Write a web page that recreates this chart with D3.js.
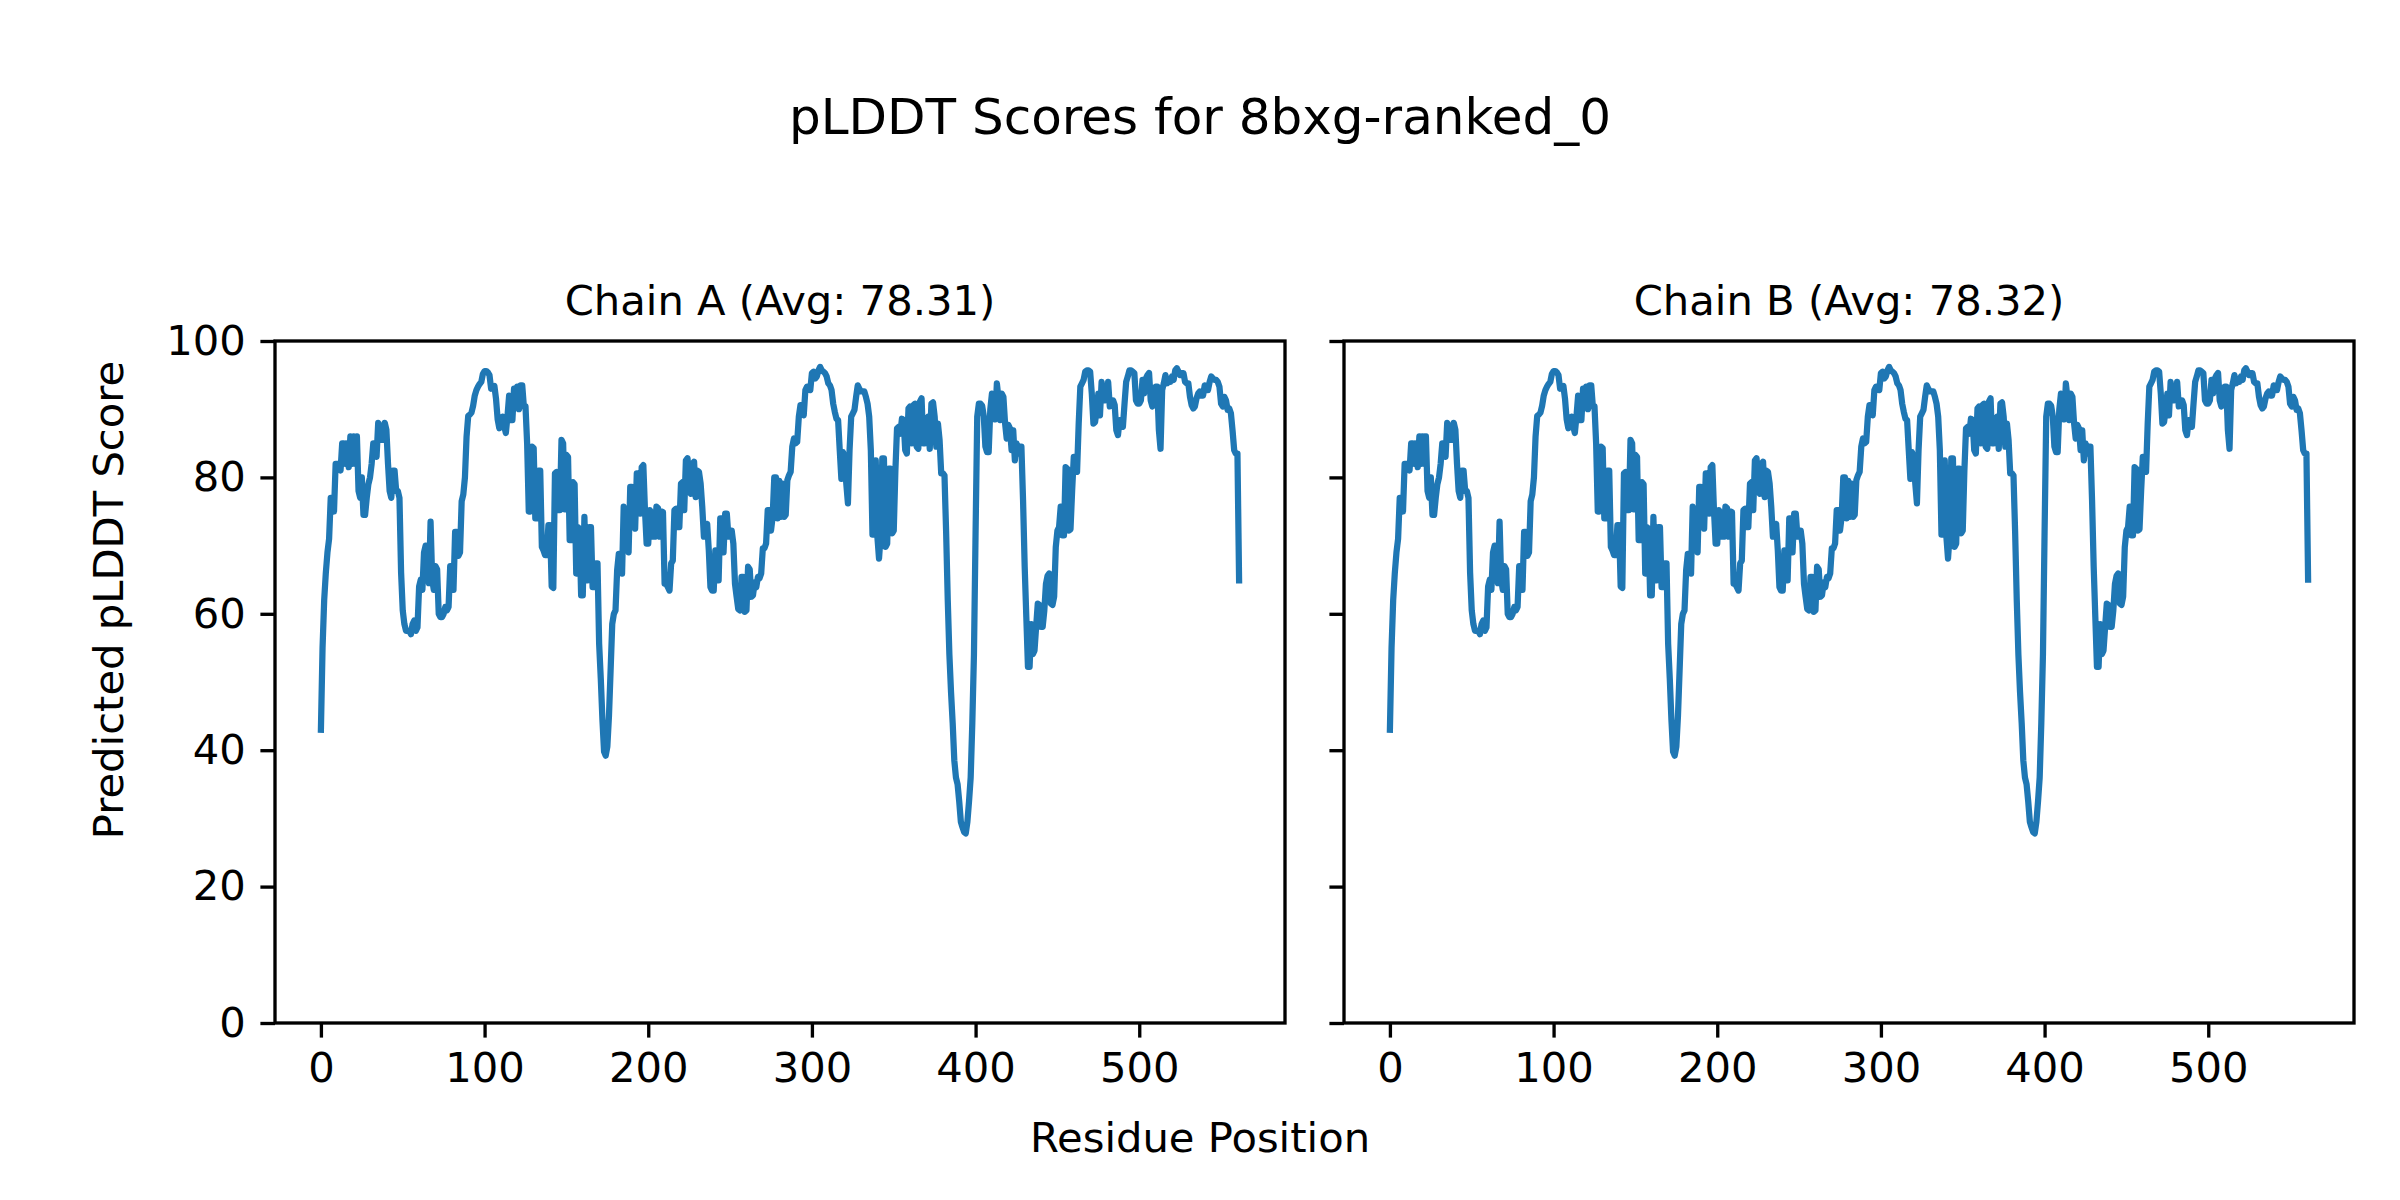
<!DOCTYPE html>
<html>
<head>
<meta charset="utf-8">
<script src="https://cdn.jsdelivr.net/npm/d3@7"></script>
<style>
  body { margin: 0; background: #fff; }
  text { font-family: "DejaVu Sans", sans-serif; fill: #000; }
</style>
</head>
<body>
<svg id="chart"></svg>
<script>
// per-residue pLDDT (index = residue position)
var chainA = [
  43, 55, 62, 66, 69, 71, 77, 77, 75, 82,
  82, 82, 81, 85, 85, 82, 85, 81.5, 86, 82,
  86, 82, 86, 78, 77, 80, 74.5, 74.5, 77, 79,
  80, 82, 85, 85, 83, 88, 87.5, 85.5, 85.5, 88,
  87, 82, 78, 77, 81, 81, 78, 78, 77, 66,
  60.5, 58.5, 57.5, 57.5, 57.5, 57, 58.5, 59, 57.5, 58,
  64, 65, 63.5, 69, 70, 67, 64.5, 73.5, 65, 63.5,
  67, 66.5, 60, 59.5, 59.5, 60, 61, 60.5, 61, 67,
  67, 63.5, 72, 72, 68.5, 69, 76.5, 77.5, 80, 86,
  89, 89.2, 89.5, 90.5, 92, 92.8, 93.3, 93.7, 94, 95.2,
  95.6, 95.6, 95.4, 95, 93, 93.3, 93.4, 91.5, 88.5, 87.2,
  87.5, 88.9, 87.5, 86.5, 89, 92, 88.4, 88.4, 93, 90.8,
  93.3, 90, 93.5, 93.5, 90.4, 90.4, 85, 75, 75, 84.5,
  84.3, 74, 74, 81, 81, 69.8, 69.3, 68.6, 68.6, 73,
  73, 64, 63.8, 80.6, 80.8, 75.2, 75.2, 85.5, 85, 75.3,
  83.3, 83, 70.8, 70.8, 79.3, 79, 65.9, 72.7, 72.5, 62.7,
  62.7, 74.2, 64.9, 64.9, 72.7, 72.7, 63.9, 63.9, 67.4, 67.4,
  55.6, 50.5, 44.5, 39.8, 39.2, 40.5, 45, 51.7, 58.5, 60,
  60.5, 66.4, 68.8, 68.8, 65.9, 75.7, 75, 70, 69, 78.6,
  78.6, 74.7, 72.5, 80.6, 80.6, 74.7, 81.5, 81.8, 75.2, 70.3,
  70.3, 75.2, 74.7, 71.3, 71.3, 75.7, 75.5, 71.3, 75, 74.9,
  64.4, 64.4, 63.9, 63.4, 67.4, 67.8, 75.2, 75.4, 72.7, 72.7,
  79.1, 79.3, 75.2, 82.5, 82.8, 80, 77.6, 82, 82.3, 77.1,
  81, 80.8, 79.1, 75.7, 71.3, 71.3, 73.2, 69.3, 63.9, 63.4,
  63.4, 69.3, 64.9, 64.9, 74, 74, 69, 74.7, 74.7, 71.3,
  72.2, 72.2, 70.3, 64.4, 62.5, 60.7, 60.5, 65.4, 65.4, 60.3,
  60.5, 66.9, 66.5, 62.5, 62.7, 64.6, 63.9, 65.4, 65.2, 65.9,
  69.6, 69.6, 70.3, 75.2, 75.2, 72.2, 74.2, 80, 80, 74,
  79.5, 74.2, 79.1, 74.2, 74.5, 79.6, 80.3, 80.8, 84.5, 85.7,
  85, 85.2, 88.9, 90.6, 90.6, 89.1, 92.8, 93.3, 93.3, 92.8,
  95.3, 95.5, 94.5, 94.8, 95.7, 96.2, 95.7, 95.5, 95.3, 94.8,
  93.8, 93.5, 92.8, 90.8, 89.6, 88.6, 88.4, 84, 79.8, 83.7,
  83, 79.1, 76.2, 84, 88.9, 89.4, 89.9, 91.8, 93.5, 93,
  92.6, 92.6, 92.6, 91.8, 90.8, 88.9, 84, 71.6, 71.6, 82.5,
  71.3, 68.1, 71.5, 82.8, 82.8, 69.8, 70.3, 81.3, 81.3, 71.8,
  72.2, 81, 87.2, 87.4, 86.4, 88.6, 88.4, 84, 83.5, 90.1,
  90.4, 85, 90.6, 90.8, 84.5, 84.2, 91.1, 91.6, 85, 85,
  88.4, 88.9, 84.2, 90.8, 91, 88.9, 84.5, 87.9, 85.5, 80.6,
  80.6, 80.3, 72, 62, 54, 48.5, 44, 38.5, 36, 35,
  32.5, 29.5, 28.7, 28, 27.8, 29.5, 32.5, 36, 44, 54,
  72, 88.9, 90.8, 90.8, 90.5, 89, 84.5, 83.7, 83.7, 90,
  92.3, 91, 88.5, 93.8, 91.6, 88.4, 92.3, 91.8, 88, 85.7,
  87.7, 87.2, 84, 86.9, 82.5, 85, 83.5, 84.5, 84.5, 76.7,
  66.9, 59.5, 52.2, 52.2, 58.5, 54.1, 54.6, 58.1, 61.5, 61.3,
  58.1, 58.1, 60.5, 64.4, 65.6, 65.9, 61.5, 61.3, 62.5, 69.8,
  72.2, 72.7, 75.7, 71.5, 71.5, 81.5, 81.3, 72.2, 72.4, 78.1,
  83, 83, 80.8, 87.9, 93.3, 93.8, 94.3, 95.5, 95.7, 95.7,
  95.5, 92.3, 87.9, 88.1, 89.9, 92.3, 89.1, 94, 91.8, 91.3,
  91.5, 94, 90.4, 91.3, 91.3, 90.6, 86.9, 86.2, 88.4, 88.4,
  87.4, 90.8, 94, 94.8, 95.7, 95.7, 95.5, 95.3, 91.3, 90.8,
  90.8, 91.3, 94.3, 92.3, 94.5, 95, 95.3, 91.3, 90.4, 92.8,
  93.3, 93.3, 86.9, 84.2, 92.8, 93.8, 95, 93.8, 94, 94,
  94.8, 94.3, 95.7, 96, 95.5, 95, 95.3, 95.3, 94, 93.8,
  93.8, 91.8, 90.6, 90.1, 90.4, 91.6, 92.3, 92.6, 92, 92,
  93.5, 92.8, 92.8, 94, 94.8, 94.5, 94.3, 94.3, 94, 93.3,
  90.8, 90.4, 91.8, 91.3, 89.9, 90.1, 89.4, 86.9, 84, 83.5,
  83.5, 64.9
];

var chainB = [
  43, 55, 62, 66, 69, 71, 77, 77, 75, 82,
  82, 82, 81, 85, 85, 82, 85, 81.5, 86, 82,
  86, 82, 86, 78, 77, 80, 74.5, 74.5, 77, 79,
  80, 82, 85, 85, 83, 88, 87.5, 85.5, 85.5, 88,
  87, 82, 78, 77, 81, 81, 78, 78, 77, 66,
  60.5, 58.5, 57.5, 57.5, 57.5, 57, 58.5, 59, 57.5, 58,
  64, 65, 63.5, 69, 70, 67, 64.5, 73.5, 65, 63.5,
  67, 66.5, 60, 59.5, 59.5, 60, 61, 60.5, 61, 67,
  67, 63.5, 72, 72, 68.5, 69, 76.5, 77.5, 80, 86,
  89, 89.2, 89.5, 90.5, 92, 92.8, 93.3, 93.7, 94, 95.2,
  95.6, 95.6, 95.4, 95, 93, 93.3, 93.4, 91.5, 88.5, 87.2,
  87.5, 88.9, 87.5, 86.5, 89, 92, 88.4, 88.4, 93, 90.8,
  93.3, 90, 93.5, 93.5, 90.4, 90.4, 85, 75, 75, 84.5,
  84.3, 74, 74, 81, 81, 69.8, 69.3, 68.6, 68.6, 73,
  73, 64, 63.8, 80.6, 80.8, 75.2, 75.2, 85.5, 85, 75.3,
  83.3, 83, 70.8, 70.8, 79.3, 79, 65.9, 72.7, 72.5, 62.7,
  62.7, 74.2, 64.9, 64.9, 72.7, 72.7, 63.9, 63.9, 67.4, 67.4,
  55.6, 50.5, 44.5, 39.8, 39.2, 40.5, 45, 51.7, 58.5, 60,
  60.5, 66.4, 68.8, 68.8, 65.9, 75.7, 75, 70, 69, 78.6,
  78.6, 74.7, 72.5, 80.6, 80.6, 74.7, 81.5, 81.8, 75.2, 70.3,
  70.3, 75.2, 74.7, 71.3, 71.3, 75.7, 75.5, 71.3, 75, 74.9,
  64.4, 64.4, 63.9, 63.4, 67.4, 67.8, 75.2, 75.4, 72.7, 72.7,
  79.1, 79.3, 75.2, 82.5, 82.8, 80, 77.6, 82, 82.3, 77.1,
  81, 80.8, 79.1, 75.7, 71.3, 71.3, 73.2, 69.3, 63.9, 63.4,
  63.4, 69.3, 64.9, 64.9, 74, 74, 69, 74.7, 74.7, 71.3,
  72.2, 72.2, 70.3, 64.4, 62.5, 60.7, 60.5, 65.4, 65.4, 60.3,
  60.5, 66.9, 66.5, 62.5, 62.7, 64.6, 63.9, 65.4, 65.2, 65.9,
  69.6, 69.6, 70.3, 75.2, 75.2, 72.2, 74.2, 80, 80, 74,
  79.5, 74.2, 79.1, 74.2, 74.5, 79.6, 80.3, 80.8, 84.5, 85.7,
  85, 85.2, 88.9, 90.6, 90.6, 89.1, 92.8, 93.3, 93.3, 92.8,
  95.3, 95.5, 94.5, 94.8, 95.7, 96.2, 95.7, 95.5, 95.3, 94.8,
  93.8, 93.5, 92.8, 90.8, 89.6, 88.6, 88.4, 84, 79.8, 83.7,
  83, 79.1, 76.2, 84, 88.9, 89.4, 89.9, 91.8, 93.5, 93,
  92.6, 92.6, 92.6, 91.8, 90.8, 88.9, 84, 71.6, 71.6, 82.5,
  71.3, 68.1, 71.5, 82.8, 82.8, 69.8, 70.3, 81.3, 81.3, 71.8,
  72.2, 81, 87.2, 87.4, 86.4, 88.6, 88.4, 84, 83.5, 90.1,
  90.4, 85, 90.6, 90.8, 84.5, 84.2, 91.1, 91.6, 85, 85,
  88.4, 88.9, 84.2, 90.8, 91, 88.9, 84.5, 87.9, 85.5, 80.6,
  80.6, 80.3, 72, 62, 54, 48.5, 44, 38.5, 36, 35,
  32.5, 29.5, 28.7, 28, 27.8, 29.5, 32.5, 36, 44, 54,
  72, 88.9, 90.8, 90.8, 90.5, 89, 84.5, 83.7, 83.7, 90,
  92.3, 91, 88.5, 93.8, 91.6, 88.4, 92.3, 91.8, 88, 85.7,
  87.7, 87.2, 84, 86.9, 82.5, 85, 83.5, 84.5, 84.5, 76.7,
  66.9, 59.5, 52.2, 52.2, 58.5, 54.1, 54.6, 58.1, 61.5, 61.3,
  58.1, 58.1, 60.5, 64.4, 65.6, 65.9, 61.5, 61.3, 62.5, 69.8,
  72.2, 72.7, 75.7, 71.5, 71.5, 81.5, 81.3, 72.2, 72.4, 78.1,
  83, 83, 80.8, 87.9, 93.3, 93.8, 94.3, 95.5, 95.7, 95.7,
  95.5, 92.3, 87.9, 88.1, 89.9, 92.3, 89.1, 94, 91.8, 91.3,
  91.5, 94, 90.4, 91.3, 91.3, 90.6, 86.9, 86.2, 88.4, 88.4,
  87.4, 90.8, 94, 94.8, 95.7, 95.7, 95.5, 95.3, 91.3, 90.8,
  90.8, 91.3, 94.3, 92.3, 94.5, 95, 95.3, 91.3, 90.4, 92.8,
  93.3, 93.3, 86.9, 84.2, 92.8, 93.8, 95, 93.8, 94, 94,
  94.8, 94.3, 95.7, 96, 95.5, 95, 95.3, 95.3, 94, 93.8,
  93.8, 91.8, 90.6, 90.1, 90.4, 91.6, 92.3, 92.6, 92, 92,
  93.5, 92.8, 92.8, 94, 94.8, 94.5, 94.3, 94.3, 94, 93.3,
  90.8, 90.4, 91.8, 91.3, 89.9, 90.1, 89.4, 86.9, 84, 83.5,
  83.5, 65
];

var chainTitles = ["Chain A (Avg: 78.31)", "Chain B (Avg: 78.32)"];
var xTicks = [0, 100, 200, 300, 400, 500];
var yTicks = [0, 20, 40, 60, 80, 100];

var w = 2400;
var h = 1200;
var plotTop = 341;
var plotBottom = 1023;
var plotW = 1010;
var panelLeft = [275, 1344];
var tickLen = 14.6;
var tickPad = 14.6;
var fontSize = 41.7;

var svg = d3.select("#chart")
            .attr("width", w)
            .attr("height", h);

svg.append("rect")
  .attr("width", w)
  .attr("height", h)
  .style("fill", "#fff");

var scaleY = d3.scaleLinear()
  .domain([0, 100])
  .range([plotBottom, plotTop]);

var series = [chainA, chainB];

series.forEach(function(data, k){
  var x0 = panelLeft[k];
  // matplotlib-style 5% margin on the x data range
  var pad = 0.05 * (data.length - 1);
  var scaleX = d3.scaleLinear()
    .domain([-pad, data.length - 1 + pad])
    .range([x0, x0 + plotW]);

  var g = svg.append("g");

  var line = d3.line()
    .x(function(d, i){ return scaleX(i); })
    .y(function(d){ return scaleY(d); });

  g.append("path")
    .datum(data)
    .attr("d", line)
    .style("fill", "none")
    .style("stroke", "#1f77b4")
    .style("stroke-width", 6.25)
    .style("stroke-linejoin", "round")
    .style("stroke-linecap", "square");

  var xAxis = g.append("g")
    .attr("transform", "translate(0," + plotBottom + ")")
    .call(d3.axisBottom(scaleX)
      .tickValues(xTicks)
      .tickSize(tickLen)
      .tickPadding(tickPad)
      .tickFormat(d3.format("d")));

  var yAxis = g.append("g")
    .attr("transform", "translate(" + x0 + ",0)")
    .call(d3.axisLeft(scaleY)
      .tickValues(yTicks)
      .tickSize(tickLen)
      .tickPadding(tickPad)
      .tickFormat(k === 0 ? d3.format("d") : function(){ return ""; }));

  [xAxis, yAxis].forEach(function(ax){
    ax.select(".domain").remove();
    ax.selectAll(".tick line")
      .style("stroke", "#000")
      .style("stroke-width", 3.33);
    ax.selectAll(".tick text")
      .style("font-size", fontSize + "px")
      .style("font-family", "'DejaVu Sans', sans-serif")
      .style("fill", "#000");
  });

  // spines
  g.append("rect")
    .attr("x", x0)
    .attr("y", plotTop)
    .attr("width", plotW)
    .attr("height", plotBottom - plotTop)
    .style("fill", "none")
    .style("stroke", "#000")
    .style("stroke-width", 3.33);

  g.append("text")
    .attr("x", x0 + plotW / 2)
    .attr("y", 315)
    .attr("text-anchor", "middle")
    .style("font-size", fontSize + "px")
    .text(chainTitles[k]);
});

svg.append("text")
  .attr("x", w / 2)
  .attr("y", 134)
  .attr("text-anchor", "middle")
  .style("font-size", "50px")
  .text("pLDDT Scores for 8bxg-ranked_0");

svg.append("text")
  .attr("x", w / 2)
  .attr("y", 1152)
  .attr("text-anchor", "middle")
  .style("font-size", fontSize + "px")
  .text("Residue Position");

svg.append("text")
  .attr("transform", "translate(123," + (h / 2) + ") rotate(-90)")
  .attr("text-anchor", "middle")
  .style("font-size", fontSize + "px")
  .text("Predicted pLDDT Score");
</script>
</body>
</html>
